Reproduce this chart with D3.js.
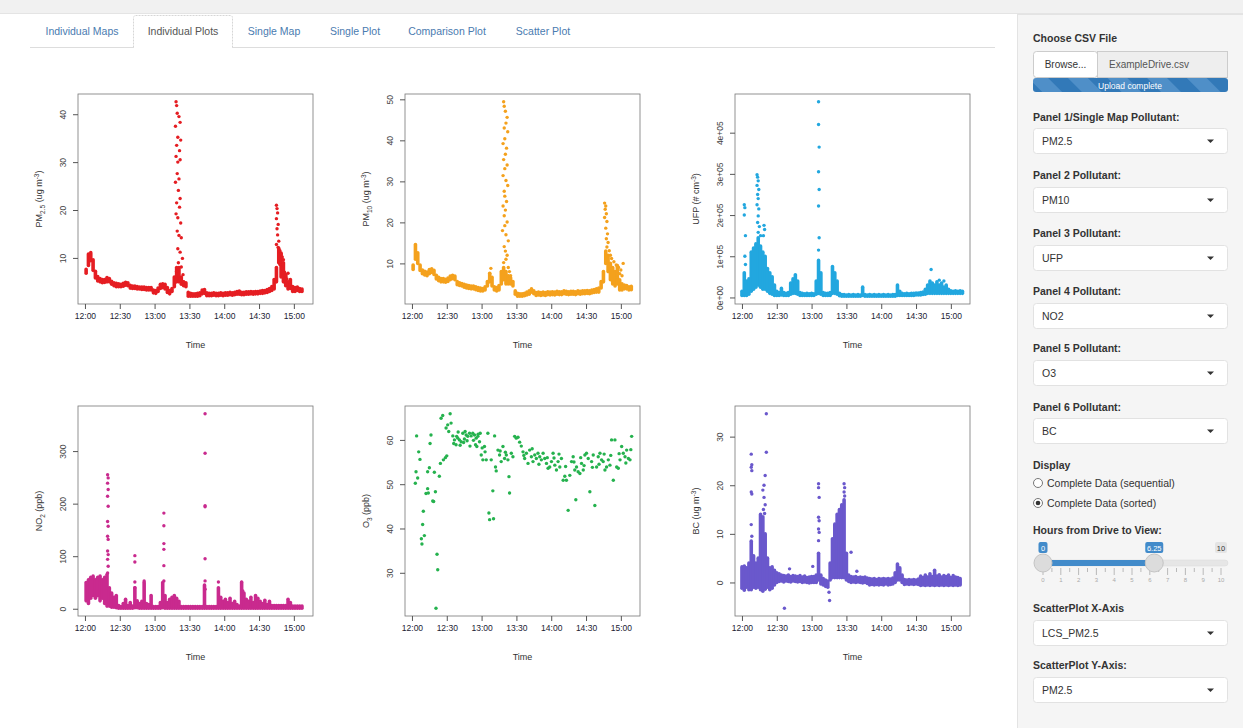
<!DOCTYPE html>
<html><head><meta charset="utf-8">
<script src="https://cdn.jsdelivr.net/npm/d3@7"></script>
<style>
html,body{margin:0;padding:0;background:#fff;overflow:hidden}
text{font-family:"Liberation Sans",Arial,Helvetica,sans-serif}
</style></head><body>
<svg id="c" width="1243" height="728"></svg>
<script>
// ---------- DATA (minutes after 12:00) ----------
const xTickMinutes = [0,30,60,90,120,150,180];
const xTickLabels = ["12:00","12:30","13:00","13:30","14:00","14:30","15:00"];
const timeDomain = [-6, 196.5];

// dense traces: [minute, low, high]; isolated readings: [minute, value]
const pm25Bands = [[1,6.8,7.6],[3,8.4,10.8],[5,9.4,11.1],[7,7.4,9.6],[9,5.8,7.2],[11,5.2,6.1],[13,5.0,5.7],[15,4.8,5.5],[17,4.9,5.5],[19,5.0,5.9],[21,5.0,5.7],[23,4.5,5.1],[25,4.2,4.8],[27,4.0,4.7],[29,4.0,4.6],[31,4.0,4.5],[33,4.1,4.7],[35,4.3,4.9],[37,4.2,4.8],[39,3.7,4.3],[41,3.6,4.1],[43,3.6,4.1],[45,3.5,4.0],[47,3.5,3.9],[49,3.4,3.9],[51,3.4,3.9],[53,3.3,3.8],[55,3.3,3.8],[57,3.3,3.8],[59,2.7,3.3],[61,2.6,3.2],[63,3.0,3.7],[65,3.6,4.5],[67,3.8,4.6],[69,3.5,4.5],[71,2.8,3.8],[73,2.5,3.2],[75,3.0,3.6],[77,4.0,6.0],[79,5.0,8.0],[81,5.0,8.0],[83,4.5,6.0],[85,4.2,5.0],[87,4.0,4.8],[89,2.0,2.8],[91,2.0,2.6],[93,2.0,2.5],[95,2.0,2.5],[97,2.0,2.6],[99,2.1,2.7],[101,2.5,3.3],[103,2.6,3.4],[105,2.1,2.7],[107,2.1,2.6],[109,2.1,2.6],[111,2.2,2.7],[113,2.1,2.6],[115,2.1,2.6],[117,2.2,2.7],[119,2.1,2.6],[121,2.2,2.7],[123,2.2,2.7],[125,2.3,2.8],[127,2.2,2.7],[129,2.3,2.8],[131,2.4,3.0],[133,2.4,3.1],[135,2.3,2.8],[137,2.3,2.8],[139,2.4,2.9],[141,2.4,2.9],[143,2.5,3.0],[145,2.4,2.9],[147,2.5,3.0],[149,2.5,3.0],[151,2.6,3.1],[153,2.6,3.2],[155,2.7,3.2],[157,2.8,3.4],[159,3.0,3.6],[161,3.2,4.0],[163,3.5,5.5],[165,5.0,8.0],[167,9.0,12.0],[169,6.0,11.0],[171,5.0,9.0],[173,4.2,6.5],[175,3.5,5.0],[177,3.6,5.5],[179,3.0,4.0],[181,3.0,3.8],[183,3.2,3.9],[185,3.0,3.6],[187,3.0,3.5]];
const pm25Points = [[78.5,42.6],[79,41.8],[79.5,40.2],[81,39.5],[82,38.3],[78,37.5],[80,35.2],[82.5,34.6],[79,33.5],[81.5,32.4],[78.5,31.2],[82,30.5],[80,30],[79.5,27.6],[81,26.5],[78,25.8],[80.5,24.1],[82,22.4],[79,21.5],[81.5,20.6],[78.5,19.2],[80,18.4],[82.5,17.3],[79.5,15.6],[81,14.7],[83,14.2],[80,11.9],[82,11.2],[84,9.9],[80.5,9.0],[83,8.1],[79,7.2],[84.5,6.5],[82,5.6],[85,5.0],[165,21.0],[165.5,20.3],[166,19.4],[165,18.2],[166.5,17.0],[165.5,16.1],[166,14.8],[167,13.5],[165,12.8],[166.5,12.2],[168,11.5],[169,10.8],[170,10.2],[171,9.6],[168,8.6],[170,7.8],[172,7.0],[173,6.2],[174,5.6],[175,6.8],[176,5.0],[177,4.4]];

const pm10Bands = [[1,8.5,9.6],[3,11.0,14.6],[5,10.0,12.6],[7,8.3,9.6],[9,7.5,8.4],[11,7.2,8.1],[13,7.0,7.9],[15,7.5,8.5],[17,7.8,8.7],[19,7.3,8.3],[21,6.2,7.1],[23,5.8,6.6],[25,5.5,6.3],[27,5.5,6.3],[29,5.4,6.1],[31,5.6,6.4],[33,6.0,6.9],[35,6.3,7.1],[37,6.0,6.9],[39,4.8,5.6],[41,4.6,5.3],[43,4.5,5.1],[45,4.2,4.9],[47,4.0,4.7],[49,3.9,4.6],[51,3.8,4.5],[53,3.8,4.5],[55,3.6,4.3],[57,3.4,4.1],[59,3.3,4.0],[61,3.3,3.9],[63,3.5,4.3],[65,4.5,5.6],[67,5.5,7.6],[69,4.5,6.6],[71,3.5,4.3],[73,3.3,4.1],[75,3.5,4.6],[77,5.0,8.0],[79,6.0,9.0],[81,5.0,8.0],[83,5.0,7.0],[85,5.0,6.5],[87,4.5,5.6],[89,2.5,3.3],[91,2.0,2.7],[93,2.0,2.6],[95,2.0,2.6],[97,2.1,2.7],[99,2.3,3.0],[101,2.5,3.3],[103,3.0,3.8],[105,2.6,3.3],[107,2.2,2.9],[109,2.3,3.0],[111,2.2,2.9],[113,2.3,3.0],[115,2.2,2.9],[117,2.4,3.1],[119,2.3,3.0],[121,2.4,3.1],[123,2.3,3.0],[125,2.5,3.2],[127,2.4,3.1],[129,2.4,3.1],[131,2.6,3.3],[133,2.5,3.2],[135,2.4,3.1],[137,2.5,3.2],[139,2.5,3.2],[141,2.4,3.1],[143,2.6,3.3],[145,2.5,3.2],[147,2.6,3.3],[149,2.6,3.3],[151,2.7,3.4],[153,2.6,3.3],[155,2.8,3.5],[157,2.9,3.6],[159,3.0,3.8],[161,3.0,4.0],[163,4.0,5.6],[165,5.5,8.0],[167,10.0,13.0],[169,8.0,12.0],[171,6.0,10.0],[173,5.0,9.0],[175,4.5,8.0],[177,5.0,9.5],[179,3.5,6.0],[181,3.5,5.0],[183,3.8,4.7],[185,3.8,4.6],[187,3.5,4.3],[189,3.6,4.4]];
const pm10Points = [[79,49.4],[79.5,48.3],[80.5,47.1],[82,45.6],[81,44.2],[79.5,43.0],[82.5,42.1],[80,40.4],[78.5,39.2],[81.5,38.1],[80.5,36.6],[79,35.3],[82,34.0],[80,33.1],[78.5,31.4],[81,30.2],[82.5,29.0],[79.5,27.6],[80,26.4],[81.5,25.1],[78.5,24.0],[80.5,23.0],[79.5,21.6],[82,20.1],[80,19.2],[78,18.0],[81,17.0],[83,15.5],[79.5,14.1],[80.5,13.0],[82,12.0],[81,11.0],[79,10.2],[83,9.0],[84,8.0],[85,7.0],[68,8.8],[67,7.5],[166,24.7],[167,24.0],[166.5,23.2],[167.5,22.1],[166,21.2],[168,20.2],[167,18.6],[168.5,17.2],[167.5,16.0],[169,15.1],[168,14.0],[170,13.1],[171,12.0],[172,11.2],[174,10.4],[176,9.6],[178,9.0],[180,8.4],[182,10.0],[179,7.5],[181,7.0],[177,6.6]];

const ufpBands = [[0,5000,15000],[2,5000,60000],[4,5000,40000],[6,8000,45000],[8,15000,110000],[10,20000,120000],[12,25000,130000],[14,30000,145000],[16,25000,125000],[18,20000,110000],[20,20000,100000],[22,15000,70000],[24,10000,60000],[26,8000,50000],[28,5000,30000],[30,5000,15000],[32,5000,12000],[34,6000,22000],[36,5000,12000],[38,5000,10000],[40,5000,12000],[42,8000,35000],[44,10000,45000],[46,10000,55000],[48,8000,40000],[50,5000,12000],[52,5000,10000],[54,5000,9000],[56,5000,10000],[58,5000,9000],[60,5000,10000],[62,5000,9000],[64,8000,40000],[66,10000,90000],[68,8000,60000],[70,5000,12000],[72,5000,10000],[74,5000,10000],[76,5000,12000],[78,10000,75000],[80,10000,60000],[82,8000,40000],[84,4000,10000],[86,3000,7000],[88,3000,7000],[90,3000,6000],[92,3000,7000],[94,3000,6000],[96,3000,7000],[98,3000,6000],[100,3000,7000],[102,3000,6000],[104,5000,25000],[106,3000,7000],[108,3000,6000],[110,3000,7000],[112,3000,6000],[114,3000,7000],[116,3000,6000],[118,3000,7000],[120,3000,6000],[122,3000,7000],[124,3000,6000],[126,3000,7000],[128,3000,6000],[130,3000,7000],[132,3000,7000],[134,5000,30000],[136,5000,15000],[138,5000,10000],[140,5000,9000],[142,5000,10000],[144,5000,9000],[146,5000,10000],[148,5000,10000],[150,6000,11000],[152,6000,11000],[154,6000,12000],[156,7000,13000],[158,8000,20000],[160,10000,30000],[162,10000,40000],[164,10000,35000],[166,10000,30000],[168,10000,38000],[170,10000,30000],[172,10000,35000],[174,10000,25000],[176,10000,30000],[178,10000,20000],[180,10000,16000],[182,10000,15000],[184,10000,16000],[186,10000,15000],[188,10000,16000],[190,10000,15000]];
const ufpPoints = [[2,225000],[2.5,218000],[2,200000],[3,150000],[2.5,100000],[3,80000],[13,298000],[13.5,292000],[14,283000],[13,272000],[14.5,262000],[13.5,250000],[14,240000],[13,225000],[14.5,215000],[14,198000],[13.5,182000],[15,172000],[14,158000],[16,150000],[19,175000],[19.5,165000],[18.5,150000],[66,475000],[66,420000],[66.5,365000],[66,305000],[66.5,262000],[66,222000],[66.5,145000],[66,115000],[163,68000],[170,42000],[174,40000]];

const no2Bands = [[1,15,50],[3,10,55],[5,20,60],[7,25,62],[9,20,55],[11,25,60],[13,15,62],[15,20,55],[17,10,60],[19,5,65],[21,5,40],[23,3,30],[25,3,22],[27,2,25],[29,1,6],[31,1,4],[33,1,10],[35,1,18],[37,1,6],[39,1,12],[41,1,5],[43,2,40],[45,2,15],[47,1,10],[49,1,14],[51,1,50],[53,1,10],[55,1,8],[57,1,25],[59,1,4],[61,1,4],[63,1,4],[65,1,12],[67,2,50],[69,1,25],[71,1,12],[73,1,18],[75,1,22],[77,1,25],[79,1,20],[81,1,14],[83,1,4],[85,1,4],[87,1,4],[89,1,4],[91,1,4],[93,1,4],[95,1,4],[97,1,4],[99,1,4],[101,1,4],[103,1,45],[105,1,4],[107,1,4],[109,1,4],[111,1,4],[113,1,4],[115,1,40],[117,1,22],[119,1,14],[121,1,18],[123,1,12],[125,1,20],[127,1,10],[129,1,14],[131,1,8],[133,1,5],[135,1,50],[137,1,30],[139,1,18],[141,1,14],[143,1,22],[145,1,12],[147,1,25],[149,1,20],[151,1,14],[153,1,10],[155,1,16],[157,1,8],[159,1,14],[161,1,6],[163,1,6],[165,1,6],[167,1,6],[169,1,6],[171,1,6],[173,1,6],[175,1,18],[177,1,12],[179,1,5],[181,1,5],[183,1,5],[185,1,5],[187,1,5]];
const no2Points = [[19.5,255],[20,249],[19.5,239],[20,227],[19.5,214],[20,195],[19.5,166],[20,157],[19.5,138],[20,132],[19.5,110],[20,103],[19.5,94],[20,81],[19.5,68],[43,101],[43,89],[43,51],[43,40],[51,53],[68,182],[68,158],[68,124],[68,113],[68,82],[68,53],[103.5,371],[103.5,296],[103.5,196],[103.5,194],[103.5,95],[103.5,53],[103.5,37],[115,51],[135,51],[136,34]];

const o3Bands = [];
const o3Points = [[2.9,50.2],[3.5,52.8],[4.0,60.9],[4.9,51.4],[5.8,57.3],[6.9,55.6],[8.1,37.7],[8.6,36.5],[9.2,40.9],[9.8,43.9],[10.7,38.4],[12.1,47.9],[13.5,49.0],[13.5,52.8],[14.1,48.0],[15.0,53.7],[15.6,59.2],[16.4,61.1],[17.9,46.2],[18.7,46.1],[19.3,52.7],[20.2,48.3],[20.7,22.0],[21.6,34.2],[22.2,30.7],[23.6,51.8],[24.5,54.7],[25.1,64.9],[26.5,65.5],[27.1,55.5],[28.8,56.0],[29.4,62.7],[30.0,56.4],[30.8,63.4],[31.7,61.9],[32.9,65.9],[33.7,63.8],[35.2,60.9],[36.6,60.0],[38.0,58.9],[39.5,60.4],[40.9,60.0],[42.4,59.6],[43.8,61.5],[45.2,60.2],[46.7,61.1],[48.1,60.8],[49.6,61.5],[51.0,60.9],[52.4,61.5],[53.9,61.1],[55.3,60.4],[56.8,60.8],[58.2,59.6],[58.8,61.5],[54.8,58.9],[55.9,58.5],[59.7,56.6],[61.1,55.5],[62.5,58.5],[64.0,55.5],[65.4,61.5],[66.3,43.5],[66.9,42.0],[68.3,55.5],[69.7,48.5],[70.3,42.2],[71.2,60.9],[72.0,53.9],[72.6,53.0],[74.1,57.7],[75.5,56.6],[76.9,55.1],[78.4,58.5],[79.8,55.8],[81.3,56.6],[82.7,55.5],[83.6,51.7],[84.1,48.0],[85.6,57.0],[87.0,56.2],[88.5,60.8],[89.9,60.4],[91.4,60.6],[94.2,58.6],[95.7,57.3],[97.1,55.8],[98.6,57.0],[100.0,54.7],[101.4,57.7],[102.9,56.2],[104.3,55.1],[105.8,56.6],[107.2,55.8],[108.6,57.0],[110.1,56.2],[111.5,55.5],[113.0,57.0],[114.4,55.8],[115.9,54.7],[117.3,53.6],[118.7,53.9],[120.2,55.1],[121.6,57.0],[123.1,54.3],[124.5,53.2],[125.9,55.1],[127.4,53.9],[128.8,55.8],[130.3,50.9],[131.7,51.8],[133.1,50.9],[134.6,44.1],[136.0,52.0],[137.5,55.1],[138.9,56.2],[140.3,53.2],[141.2,46.5],[141.8,53.9],[143.2,52.8],[144.7,52.4],[146.1,54.7],[147.6,53.2],[149.0,56.6],[150.4,57.0],[151.9,55.8],[153.3,48.3],[154.8,55.1],[156.2,56.6],[157.6,45.2],[159.1,53.9],[160.5,56.2],[162.0,57.0],[163.4,55.5],[164.8,55.1],[166.3,53.2],[167.7,53.9],[169.2,55.5],[170.6,54.3],[172.0,60.0],[173.5,50.9],[174.9,60.0],[176.4,53.9],[177.8,53.6],[179.3,55.5],[180.7,58.5],[182.1,57.0],[183.6,56.2],[185.0,57.7],[186.5,55.8],[187.9,55.5],[189.3,60.8],[36.0,59.2],[38.5,60.8],[41.5,58.8],[44.5,59.4],[47.5,59.8],[50.0,58.6],[53.0,59.9],[57.0,61.3],[60.5,58.2],[63.0,57.3],[39.8,61.8],[45.8,61.9],[76,57.5],[80.5,57.2],[92.8,59.5],[96.4,56.5],[103.6,58.0],[109.4,54.5],[116.6,56.0],[122.4,55.9],[126.7,56.8],[132.4,54.0],[139.6,55.0],[145.4,56.0],[148.3,54.2],[155.5,53.8],[161.2,54.5],[165.6,56.8],[171.3,56.5],[178.5,56.9],[184.3,54.8],[188.6,57.8]];

const bcBands = [[0,-1.2,3.2],[2,-1.6,3.4],[4,-1.0,3.0],[6,-1.5,4.0],[8,-1.5,8.5],[10,-1.0,5.5],[12,-1.2,4.0],[14,-1.0,5.0],[16,-1.5,14.0],[18,-1.8,13.5],[20,-1.4,10.0],[22,-1.0,5.0],[24,-1.5,3.0],[26,-1.2,3.2],[28,-0.5,2.5],[30,0.0,2.0],[32,0.2,1.8],[34,0.3,1.5],[36,0.1,1.4],[38,0.3,1.3],[40,0.2,1.5],[42,0.1,1.2],[44,0.3,1.4],[46,0.2,1.3],[48,0.1,1.2],[50,0.2,1.4],[52,0.0,1.1],[54,0.1,1.3],[56,0.0,1.0],[58,-0.1,1.1],[60,0.0,1.2],[62,0.0,1.2],[64,0.0,1.5],[66,0.5,6.0],[68,-0.3,1.5],[70,-0.5,0.8],[72,-0.8,0.5],[74,-1.0,0.3],[76,0.5,4.0],[78,1.0,9.0],[80,1.0,12.0],[82,1.0,14.0],[84,1.0,15.0],[86,1.0,16.0],[88,1.0,17.0],[90,0.5,6.0],[92,0.2,1.5],[94,0.0,1.2],[96,0.1,1.1],[98,0.0,1.2],[100,0.1,1.0],[102,0.0,1.1],[104,-0.1,1.0],[106,0.0,1.1],[108,-0.2,0.9],[110,-0.5,0.8],[112,-0.4,0.7],[114,-0.5,0.8],[116,-0.4,0.6],[118,-0.5,0.8],[120,-0.4,0.7],[122,-0.5,0.8],[124,-0.3,0.7],[126,-0.5,0.8],[128,-0.4,0.7],[130,-0.3,0.9],[132,0.0,2.0],[134,0.5,3.8],[136,0.5,3.0],[138,0.0,1.5],[140,-0.4,0.6],[142,-0.3,0.5],[144,-0.4,0.6],[146,-0.3,0.5],[148,-0.4,0.6],[150,-0.3,0.5],[152,-0.4,0.7],[154,-0.6,1.3],[156,-0.5,1.0],[158,-0.6,1.5],[160,-0.5,1.1],[162,-0.6,1.8],[164,-0.5,1.2],[166,-0.6,2.5],[168,-0.5,1.3],[170,-0.6,1.6],[172,-0.5,1.1],[174,-0.6,1.4],[176,-0.5,1.2],[178,-0.6,1.5],[180,-0.5,1.0],[182,-0.6,1.4],[184,-0.5,1.1],[186,-0.6,1.0],[188,-0.5,0.8]];
const bcPoints = [[8,26.4],[8.5,24.2],[8,23.7],[8.5,23.0],[8,18.6],[8.5,18.2],[8,11.9],[8.5,9.5],[21,34.7],[21,26.8],[20,22.0],[19,20.0],[18,19.0],[19,17.5],[20,16.0],[18.5,15.0],[19.5,14.2],[36.6,-5.3],[66,20.3],[66,19.5],[66.5,17.5],[66,13.4],[66.5,12.7],[66,11.0],[66.5,10.3],[66,8.6],[75,-2.0],[75.5,-3.7],[88,20.3],[88.5,19.5],[88,18.6],[88.5,17.8],[94,6.2],[99,2.3],[41,2.8],[61,3.3]];

const pm25Ticks = [10,20,30,40], pm25TickLabels = ["10","20","30","40"];
const pm10Ticks = [10,20,30,40,50], pm10TickLabels = ["10","20","30","40","50"];
const ufpTicks = [0,100000,200000,300000,400000], ufpTickLabels = ["0e+00","1e+05","2e+05","3e+05","4e+05"];
const no2Ticks = [0,100,200,300], no2TickLabels = ["0","100","200","300"];
const o3Ticks = [30,40,50,60], o3TickLabels = ["30","40","50","60"];
const bcTicks = [0,10,20,30], bcTickLabels = ["0","10","20","30"];

const tabNames = ["Individual Maps","Individual Plots","Single Map","Single Plot","Comparison Plot","Scatter Plot"];
const pollutantChoices = ["PM2.5","PM10","UFP","NO2","O3","BC"];

// ---------- DRAW ----------
const svg = d3.select("#c");
const FONT = '"Liberation Sans",Arial,Helvetica,sans-serif';

// top strip
svg.append("rect").attr("x",0).attr("y",0).attr("width",1243).attr("height",13).attr("fill","#f1f1f1");
svg.append("line").attr("x1",0).attr("x2",1243).attr("y1",13.5).attr("y2",13.5).attr("stroke","#e4e4e4");

// tabs
const tabX = [82,183,274,355,447,543];
svg.append("line").attr("x1",30).attr("x2",995).attr("y1",47.5).attr("y2",47.5).attr("stroke","#dddddd");
svg.append("path").attr("d","M133.5,47.5 V18 Q133.5,15.5 136,15.5 H230 Q232.5,15.5 232.5,18 V47.5")
  .attr("fill","#fff").attr("stroke","#d6d6d6").attr("stroke-dasharray","2,1");
svg.append("line").attr("x1",134).attr("x2",232).attr("y1",47.5).attr("y2",47.5).attr("stroke","#fff").attr("stroke-width",1.5);
svg.append("g").selectAll("text").data(tabNames).join("text")
  .attr("x",(d,i)=>tabX[i]).attr("y",35).attr("text-anchor","middle")
  .attr("font-size",10.5).attr("fill",(d,i)=>i===1?"#555":"#4a7bb0").text(d=>d);

// panels
const PW = 235, PH = 210;
const panels = [
  {left:78, top:94, bands:pm25Bands, points:pm25Points, color:"#e51d22", ticks:pm25Ticks, tickLabels:pm25TickLabels,
   label:[["PM",""],["2.5","sub"],[" (ug m",""],["-3","sup"],[")",""]]},
  {left:405, top:94, bands:pm10Bands, points:pm10Points, color:"#f4a11d", ticks:pm10Ticks, tickLabels:pm10TickLabels,
   label:[["PM",""],["10","sub"],[" (ug m",""],["-3","sup"],[")",""]]},
  {left:735, top:94, bands:ufpBands, points:ufpPoints, color:"#22a7df", ticks:ufpTicks, tickLabels:ufpTickLabels,
   label:[["UFP (# cm",""],["-3","sup"],[")",""]]},
  {left:78, top:406, bands:no2Bands, points:no2Points, color:"#c92a8e", ticks:no2Ticks, tickLabels:no2TickLabels,
   label:[["NO",""],["2","sub"],[" (ppb)",""]]},
  {left:405, top:406, bands:o3Bands, points:o3Points, color:"#25b24e", ticks:o3Ticks, tickLabels:o3TickLabels,
   label:[["O",""],["3","sub"],[" (ppb)",""]]},
  {left:735, top:406, bands:bcBands, points:bcPoints, color:"#6a58cc", ticks:bcTicks, tickLabels:bcTickLabels,
   label:[["BC (ug m",""],["-3","sup"],[")",""]]}
];

panels.forEach(p => {
  const g = svg.append("g").attr("transform",`translate(${p.left},${p.top})`);
  const x = d3.scaleLinear().domain(timeDomain).range([0,PW]);
  const vals = p.bands.flatMap(d=>[d[1],d[2]]).concat(p.points.map(d=>d[1]));
  const [mn,mx] = d3.extent(vals); const pad = (mx-mn)*0.04;
  const y = d3.scaleLinear().domain([mn-pad,mx+pad]).range([PH,0]);

  g.append("g").selectAll("line").data(p.bands).join("line")
    .attr("x1",d=>x(d[0])).attr("x2",d=>x(d[0]))
    .attr("y1",d=>y(d[1])).attr("y2",d=>y(d[2]))
    .attr("stroke",p.color).attr("stroke-width",3.6).attr("stroke-linecap","round");
  g.append("g").selectAll("circle").data(p.points).join("circle")
    .attr("cx",d=>x(d[0])).attr("cy",d=>y(d[1])).attr("r",1.7).attr("fill",p.color);

  g.append("rect").attr("width",PW).attr("height",PH).attr("fill","none").attr("stroke","#777").attr("stroke-width",0.8);

  const xa = g.append("g").attr("transform",`translate(0,${PH})`)
    .call(d3.axisBottom(x).tickValues(xTickMinutes).tickFormat((d,i)=>xTickLabels[i]).tickSize(5).tickPadding(4));
  xa.select(".domain").remove();
  xa.selectAll("line").attr("stroke","#555");
  xa.selectAll("text").attr("font-size",8.5).attr("fill","#223").attr("font-family",FONT);

  const ya = g.append("g")
    .call(d3.axisLeft(y).tickValues(p.ticks).tickFormat((d,i)=>p.tickLabels[i]).tickSize(5));
  ya.select(".domain").remove();
  ya.selectAll("line").attr("stroke","#555");
  ya.selectAll("text").attr("x",0).attr("y",-12).attr("dy",0).attr("text-anchor","middle")
    .attr("transform","rotate(-90)").attr("font-size",8.5).attr("fill","#444").attr("font-family",FONT);

  g.append("text").attr("x",PW/2).attr("y",PH+44).attr("text-anchor","middle")
    .attr("font-size",9).attr("fill","#333").text("Time");

  const lt = g.append("text").attr("transform",`translate(-36,${PH/2}) rotate(-90)`)
    .attr("text-anchor","middle").attr("font-size",9).attr("fill","#333");
  let shift = 0;
  p.label.forEach(([s,kind]) => {
    const target = kind==="sub"?2.5:kind==="sup"?-3.5:0;
    lt.append("tspan").attr("dy",target-shift).attr("font-size",kind?6.5:9).text(s);
    shift = target;
  });
});

// ---------- SIDEBAR ----------
const sb = svg.append("g");
sb.append("rect").attr("x",1017.5).attr("y",14.5).attr("width",230).attr("height",720)
  .attr("fill","#f5f5f5").attr("stroke","#e3e3e3");

const sideLabels = [["Choose CSV File",42],["Panel 1/Single Map Pollutant:",121],["Panel 2 Pollutant:",179],
  ["Panel 3 Pollutant:",237],["Panel 4 Pollutant:",295],["Panel 5 Pollutant:",352],["Panel 6 Pollutant:",411],
  ["Display",469],["Hours from Drive to View:",534],["ScatterPlot X-Axis",612],["ScatterPlot Y-Axis:",669]];
sb.selectAll("text.lab").data(sideLabels).join("text").attr("class","lab")
  .attr("x",1033).attr("y",d=>d[1]).attr("font-size",10.5).attr("font-weight","bold").attr("fill","#333").text(d=>d[0]);

// file input
sb.append("rect").attr("x",1033.5).attr("y",51.5).attr("width",64).attr("height",26).attr("rx",3)
  .attr("fill","#fff").attr("stroke","#ccc");
sb.append("rect").attr("x",1097.5).attr("y",51.5).attr("width",130).attr("height",26)
  .attr("fill","#eeeeee").attr("stroke","#ccc");
sb.append("text").attr("x",1065.5).attr("y",68).attr("text-anchor","middle").attr("font-size",10).attr("fill","#333").text("Browse...");
sb.append("text").attr("x",1149).attr("y",68).attr("text-anchor","middle").attr("font-size",10).attr("fill","#555").text("ExampleDrive.csv");
const defs = svg.append("defs");
const pat = defs.append("pattern").attr("id","stripes").attr("patternUnits","userSpaceOnUse")
  .attr("width",28).attr("height",28).attr("patternTransform","rotate(-45)");
pat.append("rect").attr("width",28).attr("height",28).attr("fill","#3279b8");
pat.append("rect").attr("width",14).attr("height",28).attr("fill","#4f8fc8");
sb.append("rect").attr("x",1033).attr("y",78).attr("width",195).attr("height",14).attr("rx",3).attr("fill","url(#stripes)");
sb.append("text").attr("x",1130).attr("y",88.5).attr("text-anchor","middle").attr("font-size",8.5).attr("fill","#fff").text("Upload complete");

// selects
const selects = [[pollutantChoices[0],128],[pollutantChoices[1],187],[pollutantChoices[2],245],[pollutantChoices[3],303],
  [pollutantChoices[4],360],[pollutantChoices[5],418],["LCS_PM2.5",620],["PM2.5",677]];
const sg = sb.selectAll("g.sel").data(selects).join("g").attr("class","sel");
sg.append("rect").attr("x",1033.5).attr("y",d=>d[1]+0.5).attr("width",194).attr("height",25).attr("rx",3)
  .attr("fill","#fff").attr("stroke","#e2e2e2");
sg.append("text").attr("x",1042).attr("y",d=>d[1]+17).attr("font-size",10.5).attr("fill","#333").text(d=>d[0]);
sg.append("path").attr("d",d=>`M1207,${d[1]+11.5} h7 l-3.5,3.5 z`).attr("fill","#333");

// radios
const radios = [["Complete Data (sequential)",483,false],["Complete Data (sorted)",503,true]];
const rg = sb.selectAll("g.rad").data(radios).join("g").attr("class","rad");
rg.append("circle").attr("cx",1038).attr("cy",d=>d[1]).attr("r",4.5).attr("fill","#fff").attr("stroke","#777");
rg.filter(d=>d[2]).append("circle").attr("cx",1038).attr("cy",d=>d[1]).attr("r",2.3).attr("fill","#333");
rg.append("text").attr("x",1047).attr("y",d=>d[1]+3.5).attr("font-size",10.5).attr("fill","#333").text(d=>d[0]);

// slider
const hourTicks = [0,1,2,3,4,5,6,7,8,9,10];
const sliderRange = [0,6.25];
const hx = d3.scaleLinear().domain([0,10]).range([1043,1221]);
sb.append("rect").attr("x",1038).attr("y",560).attr("width",190).attr("height",6).attr("rx",3).attr("fill","#e6e6e6").attr("stroke","#d8d8d8").attr("stroke-width",0.5);
sb.append("rect").attr("x",hx(sliderRange[0])).attr("y",560).attr("width",hx(sliderRange[1])-hx(sliderRange[0])).attr("height",6).attr("fill","#428bca");
sb.append("g").selectAll("line").data(d3.range(0,10.01,0.5)).join("line")
  .attr("x1",d=>hx(d)).attr("x2",d=>hx(d)).attr("y1",568).attr("y2",d=>Number.isInteger(d)?575:572).attr("stroke","#aaa").attr("stroke-width",0.8);
sb.append("g").selectAll("text").data(hourTicks).join("text")
  .attr("x",d=>hx(d)).attr("y",582).attr("text-anchor","middle").attr("font-size",6).attr("fill","#aaa").text(d=>d);
sb.selectAll("circle.h").data(sliderRange).join("circle").attr("class","h")
  .attr("cx",d=>hx(d)).attr("cy",563).attr("r",9).attr("fill","#dcdcdc").attr("stroke","#c4c4c4");
const bubbles = [[sliderRange[0],"0","#428bca","#fff",9],[sliderRange[1],"6.25","#428bca","#fff",18],[10,"10","#e4e4e4","#333",12]];
const bg = sb.selectAll("g.bub").data(bubbles).join("g").attr("class","bub");
bg.append("rect").attr("x",d=>hx(d[0])-d[4]/2).attr("y",542).attr("width",d=>d[4]).attr("height",11).attr("rx",2).attr("fill",d=>d[2]);
bg.append("text").attr("x",d=>hx(d[0])).attr("y",550.5).attr("text-anchor","middle").attr("font-size",7.5).attr("fill",d=>d[3]).text(d=>d[1]);
</script>
</body></html>
